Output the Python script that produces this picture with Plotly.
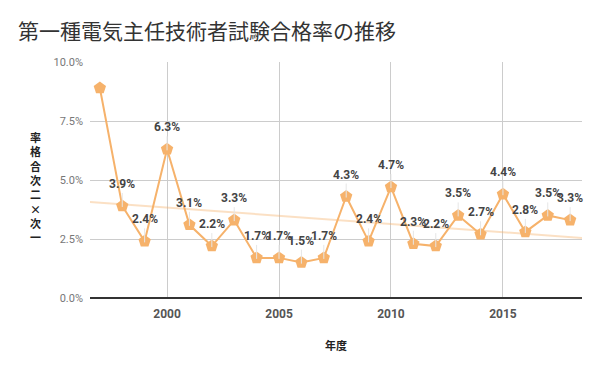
import numpy as np
import plotly.graph_objects as go

years = [1997, 1998, 1999, 2000, 2001, 2002, 2003, 2004, 2005, 2006, 2007,
         2008, 2009, 2010, 2011, 2012, 2013, 2014, 2015, 2016, 2017, 2018]
rates = [8.9, 3.9, 2.4, 6.3, 3.1, 2.2, 3.3, 1.7, 1.7, 1.5, 1.7,
         4.3, 2.4, 4.7, 2.3, 2.2, 3.5, 2.7, 4.4, 2.8, 3.5, 3.3]
label_years = years[1:]
label_rates = rates[1:]
ytick_vals = [0, 2.5, 5, 7.5, 10]
ytick_text = ["0.0%", "2.5%", "5.0%", "7.5%", "10.0%"]
xtick_vals = [2000, 2005, 2010, 2015]

x_range = [1996.56, 2018.53]
orange = "#f6b26b"

slope, intercept = np.polyfit(years, rates, 1)
tx = np.array(x_range)
ty = slope * tx + intercept

fig = go.Figure()
fig.add_trace(go.Scatter(x=tx, y=ty, mode="lines",
                         line=dict(color="rgba(246,178,107,0.4)", width=2),
                         hoverinfo="skip", showlegend=False))
fig.add_trace(go.Scatter(x=years, y=rates, mode="lines+markers",
                         line=dict(color=orange, width=2),
                         marker=dict(symbol="pentagon", size=13, color=orange),
                         showlegend=False))

for yr, v in zip(label_years, label_rates):
    fig.add_annotation(x=yr, y=v, text=f"{v:.1f}%", showarrow=True,
                       arrowhead=0, arrowwidth=1, arrowcolor="#e6e6e6",
                       ax=0, ay=-21, standoff=7,
                       font=dict(family="Roboto", size=12, color="#444444", weight="bold"),
                       yanchor="bottom", yshift=-8)

fig.add_annotation(xref="paper", yref="paper", x=-0.11, y=0.47,
                   text="率<br>格<br>合<br>次<br>二<br>×<br>次<br>一",
                   showarrow=False, xanchor="center", yanchor="middle",
                   font=dict(family="Noto Sans CJK JP", size=11, color="#222222", weight="bold"),
                   align="center")

# the page adds an 8px body margin, so the figure is 8px smaller and margins shifted
fig.update_layout(
    width=592, height=363,
    margin=dict(l=82, r=18, t=54, b=73, autoexpand=False),
    paper_bgcolor="white", plot_bgcolor="white",
    title=dict(text="第一種電気主任技術者試験合格率の推移", x=0.017, xanchor="left",
               y=0.934, yanchor="middle", yref="container", xref="container",
               font=dict(family="Noto Sans CJK JP", size=21, color="#333333")),
    xaxis=dict(range=x_range, tickvals=xtick_vals, showgrid=True, gridcolor="#cccccc",
               zeroline=False, showline=False, ticks="", automargin=False,
               ticklabelstandoff=7,
               tickfont=dict(family="Roboto", size=12, color="#555555", weight="bold"),
               title=dict(text="年度", standoff=22,
                          font=dict(family="Noto Sans CJK JP", size=11, color="#222222", weight="bold"))),
    yaxis=dict(range=[0, 10], tickvals=ytick_vals, ticktext=ytick_text, showgrid=True,
               gridcolor="#cccccc", zeroline=True, zerolinecolor="#333333", zerolinewidth=2,
               showline=False, ticks="", ticklabelstandoff=6, automargin=False,
               tickfont=dict(family="Roboto", size=11, color="#777777")),
)

fig.write_html("out.html")
